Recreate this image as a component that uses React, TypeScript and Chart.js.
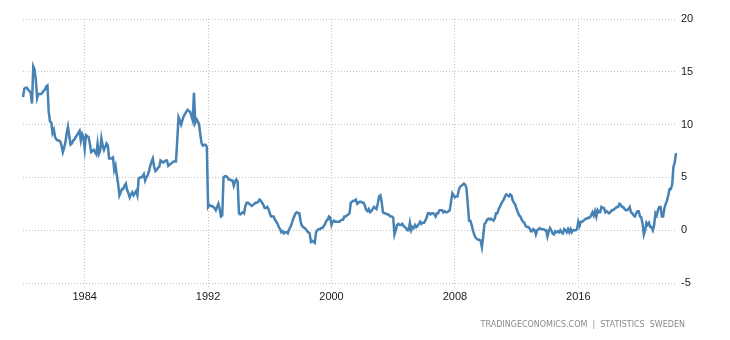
import React, { useEffect, useRef } from "react";
import { Chart, registerables } from "chart.js";

Chart.register(...registerables);

// Sweden inflation rate, monthly, % year on year
const START_YEAR = 1980;
const y1980 = [12.6, 13.4, 13.5, 13.5, 13.3, 13.2, 13.0, 12.0, 15.5, 15.2, 14.2, 12.5];
const y1981 = [12.9, 12.9, 12.9, 13.0, 13.2, 13.3, 13.6, 13.7, 11.2, 10.3, 10.2, 9.2];
const y1982 = [9.5, 8.8, 8.6, 8.5, 8.5, 8.4, 8.0, 7.4, 7.8, 8.3, 9.2, 9.8];
const y1983 = [8.9, 8.1, 8.2, 8.5, 8.6, 8.8, 9.0, 9.2, 9.4, 8.5, 9.1, 8.8];
const y1984 = [7.7, 9.0, 8.9, 8.8, 8.2, 7.4, 7.5, 7.6, 7.4, 7.2, 8.2, 7.2];
const y1985 = [7.5, 8.7, 8.0, 7.6, 7.9, 8.2, 8.0, 6.8, 6.8, 6.8, 6.9, 5.7];
const y1986 = [6.1, 5.2, 4.4, 3.3, 3.6, 3.9, 3.9, 4.2, 4.4, 3.8, 3.5, 3.1];
const y1987 = [3.4, 3.6, 3.3, 3.5, 3.7, 3.3, 4.9, 5.0, 5.0, 5.1, 5.3, 4.7];
const y1988 = [5.0, 5.2, 5.6, 6.1, 6.5, 6.8, 6.0, 5.6, 5.7, 5.9, 6.0, 6.6];
const y1989 = [6.5, 6.4, 6.5, 6.6, 6.6, 6.1, 6.2, 6.3, 6.4, 6.5, 6.5, 6.5];
const y1990 = [8.5, 10.7, 10.4, 10.0, 10.4, 10.8, 11.0, 11.2, 11.4, 11.3, 11.2, 10.8];
const y1991 = [10.4, 13.0, 10.2, 10.5, 10.3, 10.0, 9.0, 8.2, 8.0, 8.1, 8.1, 7.9];
const y1992 = [2.2, 2.4, 2.3, 2.3, 2.2, 2.1, 1.9, 2.2, 2.5, 2.0, 1.3, 1.4];
const y1993 = [5.0, 5.1, 5.1, 5.0, 4.8, 4.8, 4.7, 4.7, 4.2, 4.6, 4.8, 4.6];
const y1994 = [1.6, 1.5, 1.6, 1.7, 1.6, 2.3, 2.6, 2.6, 2.5, 2.4, 2.3, 2.4];
const y1995 = [2.5, 2.6, 2.6, 2.7, 2.9, 2.8, 2.6, 2.4, 2.1, 2.1, 2.2, 2.0];
const y1996 = [1.6, 1.3, 1.3, 1.3, 1.0, 0.8, 0.6, 0.3, 0.1, -0.2, -0.1, -0.3];
const y1997 = [-0.2, -0.2, -0.3, 0.1, 0.3, 0.6, 1.0, 1.3, 1.6, 1.7, 1.6, 1.6];
const y1998 = [0.8, 0.4, 0.3, 0.2, 0.1, -0.1, -0.2, -0.3, -1.1, -1.0, -1.1, -1.2];
const y1999 = [-0.2, 0.0, 0.1, 0.1, 0.2, 0.2, 0.4, 0.6, 0.9, 1.0, 1.3, 1.2];
const y2000 = [0.5, 0.8, 0.9, 0.8, 0.8, 0.8, 0.8, 0.9, 1.0, 1.0, 1.3, 1.3];
const y2001 = [1.4, 1.5, 1.6, 2.6, 2.7, 2.8, 2.8, 2.9, 2.5, 2.6, 2.7, 2.7];
const y2002 = [2.6, 2.6, 2.3, 1.9, 1.8, 2.0, 1.7, 1.8, 2.0, 2.2, 2.1, 2.0];
const y2003 = [2.5, 3.2, 3.3, 2.7, 1.7, 1.6, 1.6, 1.5, 1.5, 1.4, 1.3, 1.3];
const y2004 = [1.2, -0.4, 0.0, 0.5, 0.6, 0.5, 0.5, 0.6, 0.4, 0.3, 0.2, 0.0];
const y2005 = [0.0, 0.7, 0.0, 0.3, 0.2, 0.5, 0.3, 0.4, 0.6, 0.8, 0.6, 0.7];
const y2006 = [0.7, 0.9, 1.2, 1.6, 1.6, 1.5, 1.6, 1.6, 1.5, 1.3, 1.6, 1.6];
const y2007 = [1.9, 1.9, 1.9, 1.7, 1.8, 1.7, 1.7, 1.8, 1.9, 2.7, 3.5, 3.3];
const y2008 = [3.1, 3.2, 3.2, 3.8, 4.1, 4.2, 4.3, 4.4, 4.3, 4.0, 2.5, 0.9];
const y2009 = [0.9, 0.5, 0.0, -0.4, -0.7, -0.8, -0.9, -0.9, -1.0, -1.6, -0.6, 0.6];
const y2010 = [0.7, 1.0, 1.1, 1.0, 1.1, 1.0, 0.9, 1.1, 1.6, 1.6, 2.0, 2.2];
const y2011 = [2.5, 2.7, 2.9, 3.2, 3.4, 3.3, 3.2, 3.4, 3.3, 2.8, 2.6, 2.4];
const y2012 = [2.0, 1.7, 1.4, 1.3, 1.0, 0.8, 0.7, 0.4, 0.3, 0.3, 0.2, -0.1];
const y2013 = [-0.1, 0.1, 0.0, -0.4, 0.0, 0.1, 0.2, 0.1, 0.1, 0.1, 0.0, 0.0];
const y2014 = [-0.6, -0.1, 0.2, 0.0, -0.3, -0.4, -0.1, -0.2, -0.1, -0.2, 0.0, -0.2];
const y2015 = [-0.3, 0.1, 0.0, -0.2, 0.1, -0.2, 0.1, -0.2, 0.0, 0.0, 0.0, 0.1];
const y2016 = [0.8, 0.4, 0.8, 0.8, 0.9, 1.0, 1.1, 1.1, 1.2, 1.2, 1.4, 1.7];
const y2017 = [1.4, 1.8, 1.3, 1.9, 1.7, 1.7, 2.2, 2.1, 2.1, 1.7, 1.8, 1.7];
const y2018 = [1.6, 1.7, 1.9, 1.9, 2.0, 2.1, 2.2, 2.2, 2.5, 2.4, 2.2, 2.2];
const y2019 = [2.0, 1.9, 1.9, 2.0, 2.2, 1.7, 1.6, 1.4, 1.3, 1.6, 1.8, 1.8];
const y2020 = [1.3, 1.2, 0.6, -0.4, 0.0, 0.7, 0.5, 0.7, 0.3, 0.3, 0.0, 0.5];
const y2021 = [1.6, 1.4, 1.9, 2.2, 2.2, 1.3, 1.3, 2.1, 2.5, 2.8, 3.3, 3.9];
const y2022 = [3.9, 4.3, 6.0, 6.4, 7.3];

const YEARLY_SERIES = [
  y1980, y1981, y1982, y1983, y1984, y1985, y1986, y1987, y1988, y1989,
  y1990, y1991, y1992, y1993, y1994, y1995, y1996, y1997, y1998, y1999,
  y2000, y2001, y2002, y2003, y2004, y2005, y2006, y2007, y2008, y2009,
  y2010, y2011, y2012, y2013, y2014, y2015, y2016, y2017, y2018, y2019,
  y2020, y2021, y2022,
];

const X_TICK_YEARS = [1984, 1992, 2000, 2008, 2016];
const Y_MIN = -5;
const Y_MAX = 20;
const Y_STEP = 5;
const SOURCE_TEXT = "TRADINGECONOMICS.COM  |  STATISTICS  SWEDEN";

const monthLabels: string[] = [];
const inflation: number[] = [];
YEARLY_SERIES.forEach((arr, i) => {
  arr.forEach((v, m) => {
    monthLabels.push(`${START_YEAR + i}-${String(m + 1).padStart(2, "0")}`);
    inflation.push(v);
  });
});

const FONT_FAMILY = "'Liberation Sans', Arial, sans-serif";
const GRID_COLOR = "#c4c4c4";

export default function App() {
  const canvasRef = useRef<HTMLCanvasElement | null>(null);

  useEffect(() => {
    const canvas = canvasRef.current;
    if (!canvas) return;
    const chart = new Chart(canvas, {
      type: "line",
      data: {
        labels: monthLabels,
        datasets: [
          {
            data: inflation,
            borderColor: "#4682b4",
            borderWidth: 2.5,
            pointRadius: 0,
            pointHoverRadius: 0,
            tension: 0,
            fill: false,
          },
        ],
      },
      options: {
        animation: false,
        responsive: false,
        devicePixelRatio: 1,
        layout: { padding: { left: 23, top: 19, right: 0, bottom: 0 } },
        plugins: {
          legend: { display: false },
          tooltip: { enabled: false },
          title: { display: false },
        },
        scales: {
          x: {
            type: "category",
            offset: false,
            border: { display: false, dash: [1, 2] },
            grid: {
              color: GRID_COLOR,
              lineWidth: 1,
              drawTicks: true,
              tickLength: 5,
              tickColor: GRID_COLOR,
              tickBorderDash: [1, 2],
            },
            ticks: {
              autoSkip: false,
              maxRotation: 0,
              minRotation: 0,
              padding: 2,
              color: "#1a1a1a",
              font: { family: FONT_FAMILY, size: 11 },
              callback: (_v: any, index: number) => {
                const lab = monthLabels[index];
                const [yr, mo] = lab.split("-");
                if (mo === "01" && X_TICK_YEARS.includes(Number(yr))) return yr;
                return null;
              },
            },
            afterFit: (scale: any) => {
              scale.height = 57;
            },
          },
          y: {
            position: "right",
            min: Y_MIN,
            max: Y_MAX,
            border: { display: false, dash: [1, 2] },
            grid: {
              color: GRID_COLOR,
              lineWidth: 1,
              drawTicks: false,
            },
            ticks: {
              stepSize: Y_STEP,
              padding: 5,
              color: "#1a1a1a",
              font: { family: FONT_FAMILY, size: 11 },
            },
            afterFit: (scale: any) => {
              scale.width = 54;
            },
          },
        },
      },
    });
    return () => chart.destroy();
  }, []);

  return (
    <div
      style={{
        position: "fixed",
        left: 0,
        top: 0,
        width: 730,
        height: 340,
        background: "#fff",
      }}
    >
      <canvas ref={canvasRef} width={730} height={340} style={{ width: 730, height: 340, display: "block" }} />
      <div
        style={{
          position: "absolute",
          right: 45,
          top: 319,
          fontFamily: "'DejaVu Sans', Verdana, sans-serif",
          fontSize: 8,
          color: "#8a8a8a",
          whiteSpace: "pre",
          lineHeight: "12px",
        }}
      >
        {SOURCE_TEXT}
      </div>
    </div>
  );
}
